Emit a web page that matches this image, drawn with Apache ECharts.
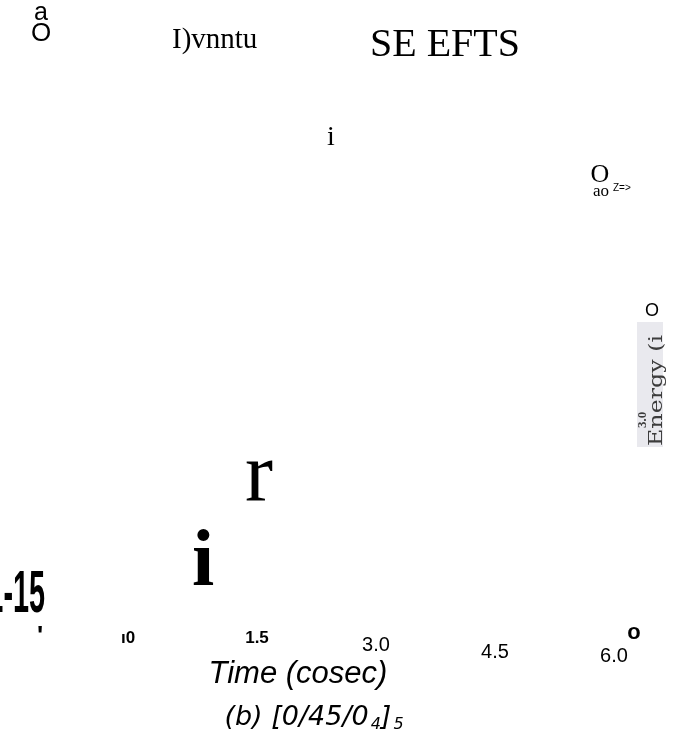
<!DOCTYPE html>
<html><head><meta charset="utf-8">
<script src="https://cdn.jsdelivr.net/npm/echarts@6/dist/echarts.min.js"></script>
<style>html,body{margin:0;padding:0;background:#fff}#c{width:689px;height:747px}</style>
</head><body><div id="c"></div>
<script>
// ---- data ----
const tickValues = [0, 1.5, 3.0, 4.5, 6.0];
const tickLabels = ['ı0', '1.5', '3.0', '4.5', '6.0'];
const axisTitle = 'Time (cosec)';
const captionMain = '(b) [0/45/0';
const captionSub1 = '4';
const captionClose = ']';
const captionSub2 = '5';
const headerTexts = ['a', 'O', 'I)vnntu', 'SE EFTS'];
const strayTexts = ['i', 'O', 'ao', 'Z=>', 'r', 'i', '1-15', "'", 'o'];
const energyTexts = ['O', '3.0', 'Energy (i'];

const chart = echarts.init(document.getElementById('c'), null, {renderer: 'canvas'});
const SANS = 'Liberation Sans, Arial, sans-serif';
const NARROW = 'Liberation Sans Narrow, Liberation Sans, sans-serif';
const SERIF = 'Liberation Serif, Times New Roman, serif';

const labelRich = {
  l0: {fontFamily: NARROW, fontWeight: 'bold', fontSize: 17, color: '#000', padding: [0, 20, 0, 0]},
  l1: {fontFamily: NARROW, fontWeight: 'bold', fontSize: 17, color: '#000', padding: [0, 0, 0, 0]},
  l2: {fontFamily: SANS, fontSize: 20, color: '#000', padding: [5, 0, 0, 0]},
  l3: {fontFamily: SANS, fontSize: 20, color: '#000', padding: [12, 0, 0, 0]},
  l4: {fontFamily: SANS, fontSize: 20, color: '#000', padding: [16, 0, 0, 0]}
};

function txt(text, x, y, style, extra) {
  return Object.assign({type: 'text', x: x, y: y, silent: true,
    style: Object.assign({text: text, fill: '#000'}, style)}, extra || {});
}

const option = {
  backgroundColor: '#fff',
  animation: false,
  grid: {left: 138, right: 75, top: 80, bottom: 117},
  xAxis: {
    type: 'value', min: 0, max: 6, interval: 1.5,
    axisLine: {show: false}, axisTick: {show: false}, splitLine: {show: false},
    axisLabel: {
      margin: 0,
      formatter: function (v) {
        const i = tickValues.findIndex(t => Math.abs(t - v) < 1e-9);
        return i < 0 ? '' : '{l' + i + '|' + tickLabels[i] + '}';
      },
      rich: labelRich
    }
  },
  yAxis: {type: 'value', show: false, min: 0, max: 1},
  series: [],
  graphic: [
    // header
    txt(headerTexts[0], 41, 13, {font: '25px ' + SANS, align: 'center', verticalAlign: 'middle'}),
    txt(headerTexts[1], 41, 34, {font: '26px ' + SANS, align: 'center', verticalAlign: 'middle'}),
    txt(headerTexts[2], 172, 40, {font: '29px ' + SERIF, align: 'left', verticalAlign: 'middle'}),
    txt(headerTexts[3], 370, 45, {font: '40px ' + SERIF, align: 'left', verticalAlign: 'middle'}),
    // stray glyphs
    txt(strayTexts[0], 331, 138, {font: '28px ' + SERIF, align: 'center', verticalAlign: 'middle'}),
    txt(strayTexts[1], 600, 175, {font: '26px ' + SERIF, align: 'center', verticalAlign: 'middle'}),
    txt(strayTexts[2], 601, 192, {font: '17px ' + SERIF, align: 'center', verticalAlign: 'middle'}),
    txt(strayTexts[3], 613, 188, {font: '10px ' + SANS, align: 'left', verticalAlign: 'middle'}),
    txt(strayTexts[4], 259, 478, {font: '84px ' + SERIF, align: 'center', verticalAlign: 'middle'}),
    txt(strayTexts[5], 203, 564, {font: 'bold 80px ' + SERIF, align: 'center', verticalAlign: 'middle'}),
    txt(strayTexts[6], 45, 595, {font: 'bold 60px ' + NARROW, align: 'right', verticalAlign: 'middle'}, {scaleX: 0.48}),
    txt(strayTexts[7], 40, 637, {font: 'bold 26px ' + SANS, align: 'center', verticalAlign: 'middle'}),
    txt(strayTexts[8], 634, 633, {font: 'bold 22px ' + SANS, align: 'center', verticalAlign: 'middle'}),
    // energy scan fragment
    {type: 'rect', silent: true, shape: {x: 637, y: 322, width: 26, height: 125}, style: {fill: '#e9e9ee'}},
    txt(energyTexts[0], 652, 311, {font: '18px ' + SANS, align: 'center', verticalAlign: 'middle'}),
    txt(energyTexts[1], 643, 428, {font: 'bold 13px ' + SERIF, fill: '#3c3c3c', align: 'left', verticalAlign: 'middle'}, {rotation: Math.PI / 2}),
    txt(energyTexts[2], 657, 446, {font: '19px DejaVu Serif, serif', fill: '#3c3c3c', align: 'left', verticalAlign: 'middle'}, {rotation: Math.PI / 2, scaleX: 1.25}),
    // axis title and caption
    txt(axisTitle, 298, 674, {font: 'italic 31px ' + SANS, align: 'center', verticalAlign: 'middle'}),
    {type: 'text', x: 314, y: 718, silent: true, style: {
      text: '{n|' + captionMain + '}{s|' + captionSub1 + '}{n|' + captionClose + '}{s|' + captionSub2 + '}',
      align: 'center', verticalAlign: 'middle',
      rich: {
        n: {fontFamily: 'DejaVu Sans', fontStyle: 'italic', fontSize: 27, color: '#000'},
        s: {fontFamily: 'DejaVu Sans', fontStyle: 'italic', fontSize: 16, color: '#000', padding: [14, 0, 0, 2]}
      }
    }}
  ]
};
chart.setOption(option);
</script>
</body></html>
